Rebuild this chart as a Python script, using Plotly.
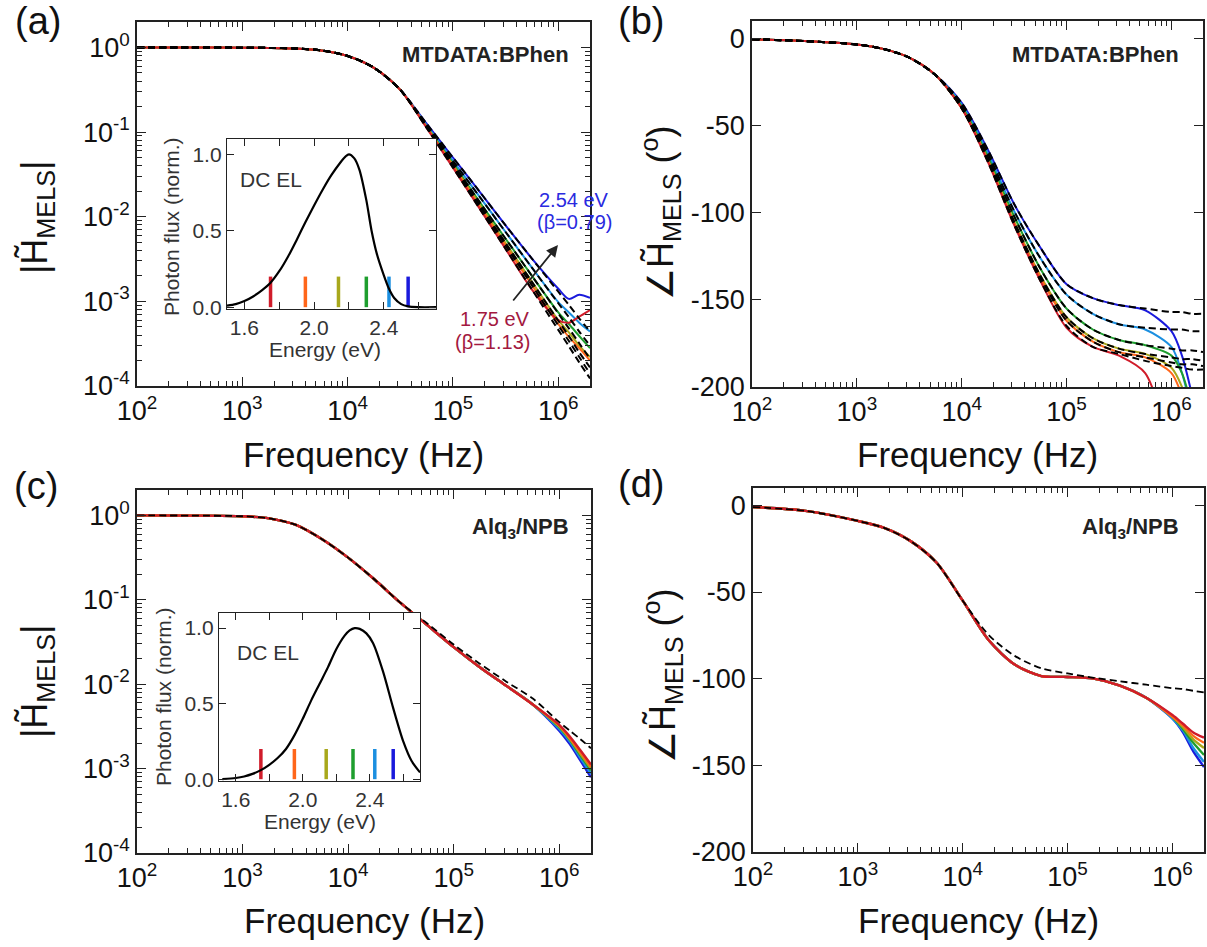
import plotly.graph_objects as go
import math

W, H = 1207, 947
FONT = "Liberation Sans, Arial, Helvetica, sans-serif"

# ---------------- data ----------------
freq_hz = [1e2, 3.16e2, 1e3, 1.78e3, 3.16e3, 5.62e3, 1e4, 1.78e4, 3.16e4, 5.62e4,
           1e5, 1.78e5, 3.16e5, 5.62e5, 1e6, 1.26e6, 1.58e6, 2e6]

series_names = ["1.75 eV", "1.95 eV", "2.14 eV", "2.30 eV", "2.43 eV", "2.54 eV"]
series_colors = ["#d01c2a", "#ff661a", "#a8a81c", "#1e9e2e", "#1b8fe0", "#1a1adc"]

# (a) |H| MTDATA:BPhen  -- shared low-frequency part + per-series high part
mag_a_low = [1.0, 1.0, 0.995, 0.989, 0.973, 0.923, 0.794, 0.575, 0.316]
mag_a_red = [0.112, 0.038, 0.0126, 0.00417, 0.00138, 6.0e-4, 5.6e-4, 6.6e-4, 7.9e-4]
mag_a_orange = [0.115, 0.0398, 0.0135, 0.00457, 0.00155, 5.4e-4, 3.8e-4, 2.8e-4, 2.0e-4]
mag_a_olive = [0.115, 0.0407, 0.0141, 0.0049, 0.0017, 6.0e-4, 4.3e-4, 3.0e-4, 2.2e-4]
mag_a_green = [0.117, 0.0427, 0.0151, 0.0055, 0.0020, 7.4e-4, 5.4e-4, 3.9e-4, 2.8e-4]
mag_a_cyan = [0.120, 0.0457, 0.0174, 0.0066, 0.0025, 9.8e-4, 7.4e-4, 5.6e-4, 4.4e-4]
mag_a_blue = [0.126, 0.0501, 0.0200, 0.0079, 0.0032, 1.41e-3, 1.07e-3, 1.2e-3, 1.1e-3]
fit_a_red = [0.112, 0.038, 0.0126, 0.00417, 0.00138, 4.6e-4, 2.95e-4, 1.9e-4, 1.23e-4]
fit_a_orange = [0.115, 0.0398, 0.0135, 0.00457, 0.00155, 5.2e-4, 3.4e-4, 2.2e-4, 1.4e-4]
fit_a_olive = [0.115, 0.0407, 0.0141, 0.0049, 0.0017, 5.9e-4, 3.9e-4, 2.5e-4, 1.66e-4]
fit_a_green = [0.117, 0.0427, 0.0151, 0.0055, 0.0020, 7.2e-4, 4.8e-4, 3.2e-4, 2.1e-4]
fit_a_cyan = [0.120, 0.0457, 0.0174, 0.0066, 0.0025, 9.5e-4, 6.5e-4, 4.4e-4, 3.0e-4]
fit_a_blue = [0.126, 0.0501, 0.0200, 0.0079, 0.0032, 1.3e-3, 9.1e-4, 6.3e-4, 4.4e-4]

# (b) phase MTDATA:BPhen (deg)
ph_b_low = [-0.5, -1.5, -3.5, -6, -11, -21]
ph_b_red = [-40, -71, -107, -139, -166, -177, -182, -192, -240, None, None, None]
ph_b_orange = [-40, -70, -106, -137, -162, -174, -180, -183, -192, -205, -225, -250]
ph_b_olive = [-40, -70, -105, -136, -160, -172, -178, -181, -189, -200, -220, -245]
ph_b_green = [-39, -68, -102, -132, -155, -167, -173, -176, -182, -192, -212, -235]
ph_b_cyan = [-38, -66, -99, -126, -147, -158, -164, -167, -177, -192, -215, -240]
ph_b_blue = [-37, -64, -95, -120, -141, -149, -153, -156, -168, -182, -205, -230]
fit_b_red = [-40, -71, -107, -139, -165, -177, -181, -185, -188, -189, -190, -190]
fit_b_orange = [-40, -70, -106, -137, -162, -174, -180, -183, -186, -187, -187, -188]
fit_b_olive = [-40, -70, -105, -136, -160, -172, -178, -181, -183, -184, -184, -185]
fit_b_green = [-39, -68, -102, -132, -155, -167, -173, -176, -178, -179, -179, -180]
fit_b_cyan = [-38, -66, -99, -126, -147, -158, -164, -166, -167, -167, -168, -168]
fit_b_blue = [-37, -64, -95, -120, -141, -149, -153, -155, -157, -157, -158, -158]

# (c) |H| Alq3/NPB
mag_c_low = [1.0, 0.995, 0.977, 0.923, 0.776, 0.525, 0.316, 0.174, 0.0912, 0.0501,
             0.0275, 0.0158, 0.00955, 0.00575]
mag_c_red = [3.3e-3, 2.4e-3, 1.66e-3, 1.12e-3]
mag_c_orange = [3.24e-3, 2.29e-3, 1.58e-3, 1.05e-3]
mag_c_olive = [3.16e-3, 2.24e-3, 1.51e-3, 1.0e-3]
mag_c_green = [3.09e-3, 2.19e-3, 1.45e-3, 9.5e-4]
mag_c_cyan = [2.95e-3, 2.09e-3, 1.35e-3, 8.7e-4]
mag_c_blue = [2.82e-3, 1.95e-3, 1.26e-3, 7.9e-4]
fit_c = [1.0, 0.995, 0.977, 0.923, 0.776, 0.525, 0.316, 0.174, 0.0912, 0.0525,
         0.0295, 0.0174, 0.0107, 0.00676, 0.00355, 0.00282, 0.00224, 0.00174]

# (d) phase Alq3/NPB
ph_d_low = [-1, -3.2, -9, -13, -20.5, -33, -55, -78, -92, -98.5, -99, -100, -104, -111]
ph_d_red = [-121, -126, -131, -134]
ph_d_orange = [-122, -127, -133, -137]
ph_d_olive = [-122, -128, -135, -140]
ph_d_green = [-122, -129, -137, -144]
ph_d_cyan = [-123, -130, -140, -148]
ph_d_blue = [-123, -131, -142, -151]
fit_d = [-1, -3.2, -9, -13, -20.5, -33, -55, -75, -87, -94, -97, -99.5, -101.5,
         -103.5, -105.5, -106, -107, -108]

# insets: DC EL spectra
energy_a = [1.50, 1.55, 1.60, 1.65, 1.70, 1.75, 1.80, 1.85, 1.90, 1.95, 2.00, 2.05, 2.10,
            2.15, 2.18, 2.20, 2.23, 2.26, 2.30, 2.33, 2.36, 2.40, 2.43, 2.46, 2.50, 2.54,
            2.60, 2.70]
flux_a = [0.01, 0.02, 0.04, 0.07, 0.11, 0.16, 0.235, 0.33, 0.44, 0.555, 0.665, 0.77, 0.865,
          0.945, 0.985, 1.0, 0.975, 0.90, 0.70, 0.50, 0.35, 0.21, 0.12, 0.06, 0.02, 0.005,
          0.0, 0.0]
energy_c = [1.52, 1.60, 1.65, 1.70, 1.75, 1.80, 1.85, 1.90, 1.95, 2.00, 2.05, 2.10, 2.15,
            2.20, 2.25, 2.28, 2.31, 2.34, 2.38, 2.42, 2.48, 2.54, 2.60, 2.65, 2.70]
flux_c = [0.0, 0.008, 0.018, 0.035, 0.06, 0.095, 0.14, 0.20, 0.29, 0.40, 0.52, 0.63, 0.74,
          0.86, 0.95, 0.985, 1.0, 0.995, 0.965, 0.90, 0.71, 0.47, 0.25, 0.12, 0.045]
probe_energies = [1.75, 1.95, 2.14, 2.30, 2.43, 2.54]
probe_bar_top = 0.2

x_ticks = [1e2, 1e3, 1e4, 1e5, 1e6]
x_ticktext = ["10<sup>2</sup>", "10<sup>3</sup>", "10<sup>4</sup>", "10<sup>5</sup>", "10<sup>6</sup>"]
y_log_ticks = [1, 1e-1, 1e-2, 1e-3, 1e-4]
y_log_ticktext = ["10<sup>0</sup>", "10<sup>-1</sup>", "10<sup>-2</sup>", "10<sup>-3</sup>", "10<sup>-4</sup>"]
y_ph_ticks = [0, -50, -100, -150, -200]
y_ph_ticktext = ["0", "-50", "-100", "-150", "-200"]
inset_x_ticks = [1.6, 1.8, 2.0, 2.2, 2.4, 2.6]
inset_x_ticktext = ["1.6", "", "2.0", "", "2.4", ""]
inset_y_ticks = [0, 0.5, 1.0]
inset_y_ticktext = ["0.0", "0.5", "1.0"]

# ---------------- layout helpers ----------------
def px(x):
    return x / W

def py(y):
    return 1 - y / H

def dom_x(x0, x1):
    return [px(x0), px(x1)]

def dom_y(top, bottom):
    return [py(bottom), py(top)]

minor_x = [m * 10 ** d for d in range(2, 7) for m in range(2, 10) if m * 10 ** d <= 2e6]
minor_y = [m * 10 ** d for d in range(-4, 1) for m in range(2, 10) if m * 10 ** d <= 2]

fig = go.Figure()

def line(x, y, color, xa, ya, width=2.0, dash=None, shape="spline"):
    fig.add_trace(go.Scatter(
        x=x, y=y, mode="lines", xaxis=xa, yaxis=ya, showlegend=False, hoverinfo="skip",
        line=dict(color=color, width=width, dash=dash, shape=shape, smoothing=0.8)))

DASH = "7px,4px"

mag_a_high = [mag_a_red, mag_a_orange, mag_a_olive, mag_a_green, mag_a_cyan, mag_a_blue]
fit_a_high = [fit_a_red, fit_a_orange, fit_a_olive, fit_a_green, fit_a_cyan, fit_a_blue]
ph_b_high = [ph_b_red, ph_b_orange, ph_b_olive, ph_b_green, ph_b_cyan, ph_b_blue]
fit_b_high = [fit_b_red, fit_b_orange, fit_b_olive, fit_b_green, fit_b_cyan, fit_b_blue]
mag_c_high = [mag_c_red, mag_c_orange, mag_c_olive, mag_c_green, mag_c_cyan, mag_c_blue]
ph_d_high = [ph_d_red, ph_d_orange, ph_d_olive, ph_d_green, ph_d_cyan, ph_d_blue]

order = [5, 4, 3, 2, 1, 0]
# (a)
for i in order:
    line(freq_hz, mag_a_low + mag_a_high[i], series_colors[i], "x", "y")
for i in order:
    line(freq_hz, mag_a_low + fit_a_high[i], "black", "x", "y", width=2.0, dash=DASH)
# (b)
for i in order:
    line(freq_hz, ph_b_low + ph_b_high[i], series_colors[i], "x2", "y2")
for i in order:
    line(freq_hz, ph_b_low + fit_b_high[i], "black", "x2", "y2", width=2.0, dash=DASH)
# (c)
for i in order:
    line(freq_hz, mag_c_low + mag_c_high[i], series_colors[i], "x3", "y3", width=2.4)
line(freq_hz, fit_c, "black", "x3", "y3", width=1.8, dash=DASH)
# (d)
for i in order:
    line(freq_hz, ph_d_low + ph_d_high[i], series_colors[i], "x4", "y4", width=2.4)
line(freq_hz, fit_d, "black", "x4", "y4", width=1.8, dash=DASH)

# insets
for xa, ya, en, fl in [("x5", "y5", energy_a, flux_a), ("x6", "y6", energy_c, flux_c)]:
    for e, c in zip(probe_energies, series_colors):
        line([e, e], [0, probe_bar_top], c, xa, ya, width=3.5, shape="linear")
    line(en, fl, "black", xa, ya, width=2.2)

# axes
def main_axis(**kw):
    d = dict(showline=True, linecolor="#222", linewidth=1.6, mirror="ticks", ticks="inside",
             ticklen=9, tickwidth=1.4, tickcolor="#222", showgrid=False, zeroline=False,
             automargin=False, tickfont=dict(family=FONT, size=27, color="#111"))
    d.update(kw)
    return d

def xlog(anchor, domain):
    return main_axis(type="log", range=[2, math.log10(2e6)], domain=domain, anchor=anchor,
                     tickvals=x_ticks, ticktext=x_ticktext,
                     minor=dict(tickvals=minor_x, ticks="inside", ticklen=5, tickwidth=1.1,
                                tickcolor="#222", showgrid=False))

def ylog(anchor, domain):
    return main_axis(type="log", range=[-4, 0.301], domain=domain, anchor=anchor,
                     tickvals=y_log_ticks, ticktext=y_log_ticktext,
                     minor=dict(tickvals=minor_y, ticks="inside", ticklen=5, tickwidth=1.1,
                                tickcolor="#222", showgrid=False))

def yph(anchor, domain):
    return main_axis(range=[-200, 10], domain=domain, anchor=anchor,
                     tickvals=y_ph_ticks, ticktext=y_ph_ticktext)

def inset_axis(**kw):
    d = dict(showline=True, linecolor="#222", linewidth=1.3, mirror="ticks", ticks="inside",
             ticklen=7, tickwidth=1.2, tickcolor="#222", showgrid=False, zeroline=False,
             automargin=False, tickfont=dict(family=FONT, size=21, color="#333"))
    d.update(kw)
    return d

A = dict(x=dom_x(137, 590), y=dom_y(22, 386))
B = dict(x=dom_x(752, 1203), y=dom_y(21, 387))
C = dict(x=dom_x(137, 591), y=dom_y(490, 853))
D = dict(x=dom_x(753, 1204), y=dom_y(488, 852))
IA = dict(x=dom_x(227, 436), y=dom_y(139, 309))
IC = dict(x=dom_x(219, 420), y=dom_y(613, 781))

fig.update_layout(
    width=W, height=H, margin=dict(l=0, r=0, t=0, b=0),
    paper_bgcolor="white", plot_bgcolor="white", showlegend=False,
    font=dict(family=FONT, color="#111"),
    xaxis=xlog("y", A["x"]), yaxis=ylog("x", A["y"]),
    xaxis2=xlog("y2", B["x"]), yaxis2=yph("x2", B["y"]),
    xaxis3=xlog("y3", C["x"]), yaxis3=ylog("x3", C["y"]),
    xaxis4=xlog("y4", D["x"]), yaxis4=yph("x4", D["y"]),
    xaxis5=inset_axis(range=[1.5, 2.7], domain=IA["x"], anchor="y5",
                      tickvals=inset_x_ticks, ticktext=inset_x_ticktext),
    yaxis5=inset_axis(range=[-0.012, 1.1], domain=IA["y"], anchor="x5",
                      tickvals=inset_y_ticks, ticktext=inset_y_ticktext),
    xaxis6=inset_axis(range=[1.5, 2.7], domain=IC["x"], anchor="y6",
                      tickvals=inset_x_ticks, ticktext=inset_x_ticktext),
    yaxis6=inset_axis(range=[-0.012, 1.1], domain=IC["y"], anchor="x6",
                      tickvals=inset_y_ticks, ticktext=inset_y_ticktext),
)

def txt(x, y, s, size, color="#111", xanchor="center", angle=0, bold=False):
    if bold:
        s = "<b>" + s + "</b>"
    fig.add_annotation(x=px(x), y=py(y), xref="paper", yref="paper", text=s, showarrow=False,
                       xanchor=xanchor, yanchor="middle", textangle=angle,
                       font=dict(family=FONT, size=size, color=color))

# panel letters
txt(38, 21, "(a)", 38)
txt(641, 21, "(b)", 38)
txt(36, 486, "(c)", 38)
txt(641, 484, "(d)", 38)

# axis titles
for xc, yc in [(363, 455), (977, 455), (364, 920), (978, 920)]:
    txt(xc, yc, "Frequency (Hz)", 35)
txt(37, 218, "|H\u0303<sub>MELS</sub>|", 36, angle=-90)
txt(37, 682, "|H\u0303<sub>MELS</sub>|", 36, angle=-90)
txt(660, 213, "\u2220H\u0303<sub>MELS</sub> (<sup>o</sup>)", 36, angle=-90)
txt(662, 676, "\u2220H\u0303<sub>MELS</sub> (<sup>o</sup>)", 36, angle=-90)

# sample labels
txt(571, 55, "MTDATA:BPhen", 22, xanchor="right", bold=True, color="#222")
txt(1181, 55, "MTDATA:BPhen", 22, xanchor="right", bold=True, color="#222")
txt(571, 528, "Alq<sub>3</sub>/NPB", 22, xanchor="right", bold=True, color="#222")
txt(1181, 528, "Alq<sub>3</sub>/NPB", 22, xanchor="right", bold=True, color="#222")

# inset labels
txt(271, 180, "DC EL", 21, color="#333")
txt(268, 652, "DC EL", 21, color="#333")
txt(171, 227, "Photon flux (norm.)", 21, angle=-90, color="#333")
txt(163, 697, "Photon flux (norm.)", 21, angle=-90, color="#333")
txt(325, 349, "Energy (eV)", 21, color="#333")
txt(320, 821, "Energy (eV)", 21, color="#333")

# energy annotations
txt(574, 200, "2.54 eV", 20, color="#2a2ae0")
txt(574, 222, "(\u03b2=0.79)", 20, color="#2a2ae0")
txt(495, 319, "1.75 eV", 20, color="#a3193f")
txt(492, 342, "(\u03b2=1.13)", 20, color="#a3193f")
fig.add_annotation(x=px(558), y=py(245), xref="paper", yref="paper", ax=-46, ay=57,
                   axref="pixel", ayref="pixel", showarrow=True, arrowhead=2, arrowsize=1.3,
                   arrowwidth=1.8, arrowcolor="#222", text="")

fig.write_html("out.html")
